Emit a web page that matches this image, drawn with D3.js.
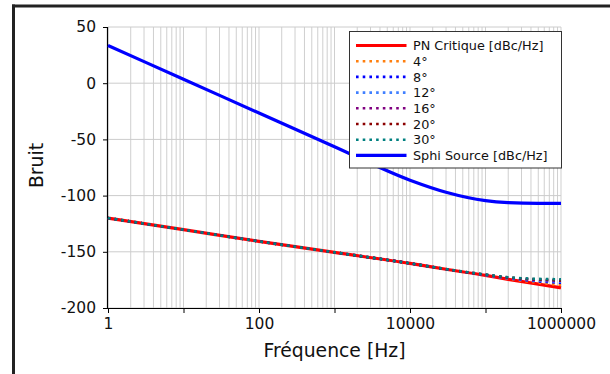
<!DOCTYPE html>
<html>
<head>
<meta charset="utf-8">
<script src="https://cdn.jsdelivr.net/npm/d3@7"></script>
<style>
  body { margin: 0; background: #fff; }
  svg { display: block; font-family: "DejaVu Sans", sans-serif; }
</style>
</head>
<body>
<div id="chart"></div>
<script>
// fréquences (Hz) où les valeurs ont été lues
const freqs = [1, 10, 100, 1000, 10000, 30000, 100000, 200000, 500000, 1000000];

// bruit de phase critique
const pnCritique = [-120, -130.3, -140.7, -150.5, -160.3, -165.5, -171, -174.5, -178.8, -182];

// courbes par angle (identiques au critique jusqu'à ~3e4 Hz)
const angle4 = [-120, -130.3, -140.7, -150.5, -160.3, -165.5, -170.8, -174, -177.5, -179.5];
const angle8 = [-120, -130.3, -140.7, -150.5, -160.3, -165.5, -170.7, -173.6, -176.3, -177.5];
const angle12 = [-120, -130.3, -140.7, -150.5, -160.3, -165.5, -170.6, -173.3, -175.6, -176.5];
const angle16 = [-120, -130.3, -140.7, -150.5, -160.3, -165.5, -170.5, -173, -175, -175.8];
const angle20 = [-120, -130.3, -140.7, -150.5, -160.3, -165.5, -170.4, -172.8, -174.6, -175.2];
const angle30 = [-120, -130.3, -140.7, -150.5, -160.3, -165.4, -170.2, -172.6, -174.1, -174.4];

// source
const sphiSource = [33.5, 3.5, -26.5, -56.5, -86.3, -97, -104.5, -106.3, -107, -107];

const labels = ["PN Critique [dBc/Hz]", "4°", "8°", "12°", "16°", "20°", "30°", "Sphi Source [dBc/Hz]"];
const yTicks = [50, 0, -50, -100, -150, -200];

const series = [
    { name: labels[0], values: pnCritique, color: "#ff0000", dotted: false },
    { name: labels[1], values: angle4, color: "#ff7f0e", dotted: true },
    { name: labels[2], values: angle8, color: "#0000ff", dotted: true },
    { name: labels[3], values: angle12, color: "#3f7fff", dotted: true },
    { name: labels[4], values: angle16, color: "#800080", dotted: true },
    { name: labels[5], values: angle20, color: "#8b0000", dotted: true },
    { name: labels[6], values: angle30, color: "#008080", dotted: true },
    { name: labels[7], values: sphiSource, color: "#0000ff", dotted: false }
];

const width = 610, height = 374;
const margin = { left: 108, right: 49, top: 27, bottom: 66 };

const svg = d3.select("#chart").append("svg")
    .attr("width", width)
    .attr("height", height);

const x = d3.scaleLog()
    .domain([1, 1e6])
    .range([margin.left, width - margin.right]);
const y = d3.scaleLinear()
    .domain([-200, 50])
    .range([height - margin.bottom, margin.top]);

// grille mineure / majeure
const gridX = [];
for (let e = 0; e < 6; e++) {
    for (let m = 1; m <= 9; m++) gridX.push(m * Math.pow(10, e));
}
gridX.push(1e6);

svg.append("g")
    .selectAll("line")
    .data(gridX)
    .enter()
    .append("line")
    .attr("x1", d => x(d)).attr("x2", d => x(d))
    .attr("y1", y(-200)).attr("y2", y(50))
    .attr("stroke", "#cfcfcf")
    .attr("stroke-width", 1);

svg.append("g")
    .selectAll("line")
    .data(yTicks)
    .enter()
    .append("line")
    .attr("x1", x(1)).attr("x2", x(1e6))
    .attr("y1", d => y(d)).attr("y2", d => y(d))
    .attr("stroke", "#cccccc")
    .attr("stroke-width", 1);

// axes
const xAxis = d3.axisBottom(x)
    .tickValues([1, 10, 100, 1000, 10000, 100000, 1000000])
    .tickFormat(d => [1, 100, 10000, 1000000].includes(d) ? d3.format("d")(d) : "")
    .tickSize(5)
    .tickPadding(5);
const gx = svg.append("g")
    .attr("transform", `translate(0,${y(-200)})`)
    .call(xAxis);

const yAxis = d3.axisLeft(y)
    .tickValues(yTicks)
    .tickFormat(d => d)
    .tickSize(5)
    .tickPadding(7);
const gy = svg.append("g")
    .attr("transform", `translate(${x(1)},0)`)
    .call(yAxis);

[gx, gy].forEach(g => {
    g.selectAll(".domain").attr("stroke", "#000").attr("stroke-width", 1.2);
    g.selectAll(".tick line").attr("stroke", "#000").attr("stroke-width", 1);
    g.selectAll("text")
        .attr("fill", "#111")
        .style("font-family", "DejaVu Sans")
        .style("font-size", "15.5px");
});
gx.select(".domain").attr("d", `M${x(1)},0.5H${x(1e6)}`);
gy.select(".domain").attr("d", `M-0.5,${y(-200)}V${y(50)}`);

// courbes
const line = d3.line()
    .x((d, i) => x(freqs[i]))
    .y(d => y(d))
    .curve(d3.curveMonotoneX);

svg.append("g")
    .selectAll("path")
    .data(series)
    .enter()
    .append("path")
    .attr("d", d => line(d.values))
    .attr("fill", "none")
    .attr("stroke", d => d.color)
    .attr("stroke-width", d => d.dotted ? 2.6 : 3.2)
    .attr("stroke-dasharray", d => d.dotted ? "2.6,4.1" : null);

// titres des axes
svg.append("text")
    .attr("x", (x(1) + x(1e6)) / 2)
    .attr("y", 357)
    .attr("text-anchor", "middle")
    .style("font-size", "18.8px")
    .attr("fill", "#111")
    .text("Fréquence [Hz]");

svg.append("text")
    .attr("transform", `translate(43,${(y(-200) + y(50)) / 2 - 2}) rotate(-90)`)
    .attr("text-anchor", "middle")
    .style("font-size", "18.8px")
    .attr("fill", "#111")
    .text("Bruit");

// légende
const legend = svg.append("g").attr("transform", "translate(349.5,31.5)");
legend.append("rect")
    .attr("x", 0).attr("y", 0)
    .attr("width", 212).attr("height", 136.5)
    .attr("fill", "#fff")
    .attr("stroke", "#333")
    .attr("stroke-width", 1);

const items = legend.selectAll(".item")
    .data(series)
    .enter()
    .append("g")
    .attr("class", "item")
    .attr("transform", (d, i) => `translate(0,${14 + i * 15.7})`);

items.append("line")
    .attr("x1", 6.5).attr("x2", 57)
    .attr("y1", 0).attr("y2", 0)
    .attr("stroke", d => d.color)
    .attr("stroke-width", d => d.dotted ? 2.6 : 3.2)
    .attr("stroke-dasharray", d => d.dotted ? "2.6,4.1" : null);

items.append("text")
    .attr("x", 63.5)
    .attr("y", 4.6)
    .style("font-size", "12.8px")
    .attr("fill", "#111")
    .text(d => d.name);

// cadre extérieur (coupé à droite et en bas)
svg.append("line")
    .attr("x1", 12).attr("x2", width)
    .attr("y1", 6).attr("y2", 6)
    .attr("stroke", "#222")
    .attr("stroke-width", 3);
svg.append("line")
    .attr("x1", 13.5).attr("x2", 13.5)
    .attr("y1", 4.5).attr("y2", height)
    .attr("stroke", "#222")
    .attr("stroke-width", 3);
</script>
</body>
</html>
